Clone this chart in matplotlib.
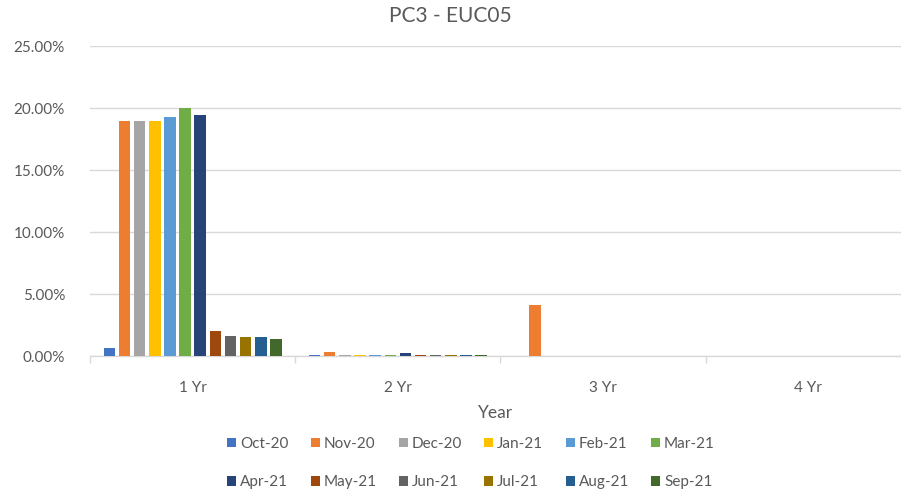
import matplotlib
matplotlib.use("Agg")
import matplotlib.pyplot as plt
import numpy as np
from matplotlib.ticker import FuncFormatter, FixedLocator

plt.rcParams['font.family'] = ['Lato', 'DejaVu Sans']

categories = ["1 Yr", "2 Yr", "3 Yr", "4 Yr"]
series_names = ["Oct-20", "Nov-20", "Dec-20", "Jan-21", "Feb-21", "Mar-21",
                "Apr-21", "May-21", "Jun-21", "Jul-21", "Aug-21", "Sep-21"]
oct20 = [0.65, 0.10, 0.0, 0.0]
nov20 = [18.95, 0.30, 4.15, 0.0]
dec20 = [18.95, 0.10, 0.0, 0.0]
jan21 = [18.95, 0.10, 0.0, 0.0]
feb21 = [19.25, 0.10, 0.0, 0.0]
mar21 = [20.00, 0.10, 0.0, 0.0]
apr21 = [19.45, 0.22, 0.0, 0.0]
may21 = [2.00, 0.12, 0.0, 0.0]
jun21 = [1.65, 0.10, 0.0, 0.0]
jul21 = [1.55, 0.10, 0.0, 0.0]
aug21 = [1.50, 0.10, 0.0, 0.0]
sep21 = [1.40, 0.05, 0.0, 0.0]
series_values = [oct20, nov20, dec20, jan21, feb21, mar21,
                 apr21, may21, jun21, jul21, aug21, sep21]
colors = ["#4472C4", "#ED7D31", "#A5A5A5", "#FFC000", "#5B9BD5", "#70AD47",
          "#264478", "#9E480E", "#636363", "#997300", "#255E91", "#43682B"]
yticks = [0, 5, 10, 15, 20, 25]

W, H = 901, 493
fig = plt.figure(figsize=(W / 100, H / 100), dpi=100)
left_px, right_px = 90, 911
bottom_px, top_px = 356, 46
ax = fig.add_axes([left_px / W, 1 - bottom_px / H,
                   (right_px - left_px) / W, (bottom_px - top_px) / H])

text_col = "#595959"
grid_col = "#D9D9D9"

n = len(series_names)
slot = 0.0738
bw = 0.056
x = np.arange(len(categories))
handles = []
for i, (name, vals, c) in enumerate(zip(series_names, series_values, colors)):
    off = (i - (n - 1) / 2) * slot
    b = ax.bar(x + off, vals, width=bw, color=c, label=name, zorder=3)
    handles.append(b)

ax.set_xlim(-0.5, len(categories) - 0.5)
ax.set_ylim(0, 25)
ax.set_yticks(yticks)
ax.yaxis.set_major_formatter(FuncFormatter(lambda v, p: f"{v:.2f}%"))
ax.grid(axis='y', color=grid_col, linewidth=1, zorder=0)
ax.set_xticks(x)
ax.set_xticklabels(categories)
ax.xaxis.set_minor_locator(FixedLocator(np.arange(-0.5, len(categories), 1.0)))
ax.tick_params(axis='x', which='major', length=0, pad=18, labelsize=11, labelcolor=text_col)
ax.tick_params(axis='x', which='minor', length=5, color=grid_col, width=1)
ax.tick_params(axis='y', length=0, pad=18, labelsize=11, labelcolor=text_col)
for s in ['top', 'right', 'left']:
    ax.spines[s].set_visible(False)
ax.spines['bottom'].set_color(grid_col)
ax.spines['bottom'].set_linewidth(1)

fig.text(0.5, 1 - 16 / H, "PC3 - EUC05", ha='center', va='center',
         fontsize=15, color=text_col)
fig.text((left_px + (right_px - left_px) / 2 - 5) / W, 1 - 413 / H, "Year",
         ha='center', va='center', fontsize=12.5, color=text_col)

# row-major order for a 2-row, 6-column legend
ncol = 6
order = [r * ncol + c for c in range(ncol) for r in range(2)]
leg = fig.legend([handles[k] for k in order], [series_names[k] for k in order],
                 loc='center', bbox_to_anchor=(471 / W, 1 - 463 / H), ncol=ncol,
                 frameon=False, fontsize=11, handlelength=0.6, handleheight=0.6,
                 handletextpad=0.25, columnspacing=1.45, labelspacing=1.6)
for t in leg.get_texts():
    t.set_color(text_col)

fig.savefig("out.png", dpi=100)
